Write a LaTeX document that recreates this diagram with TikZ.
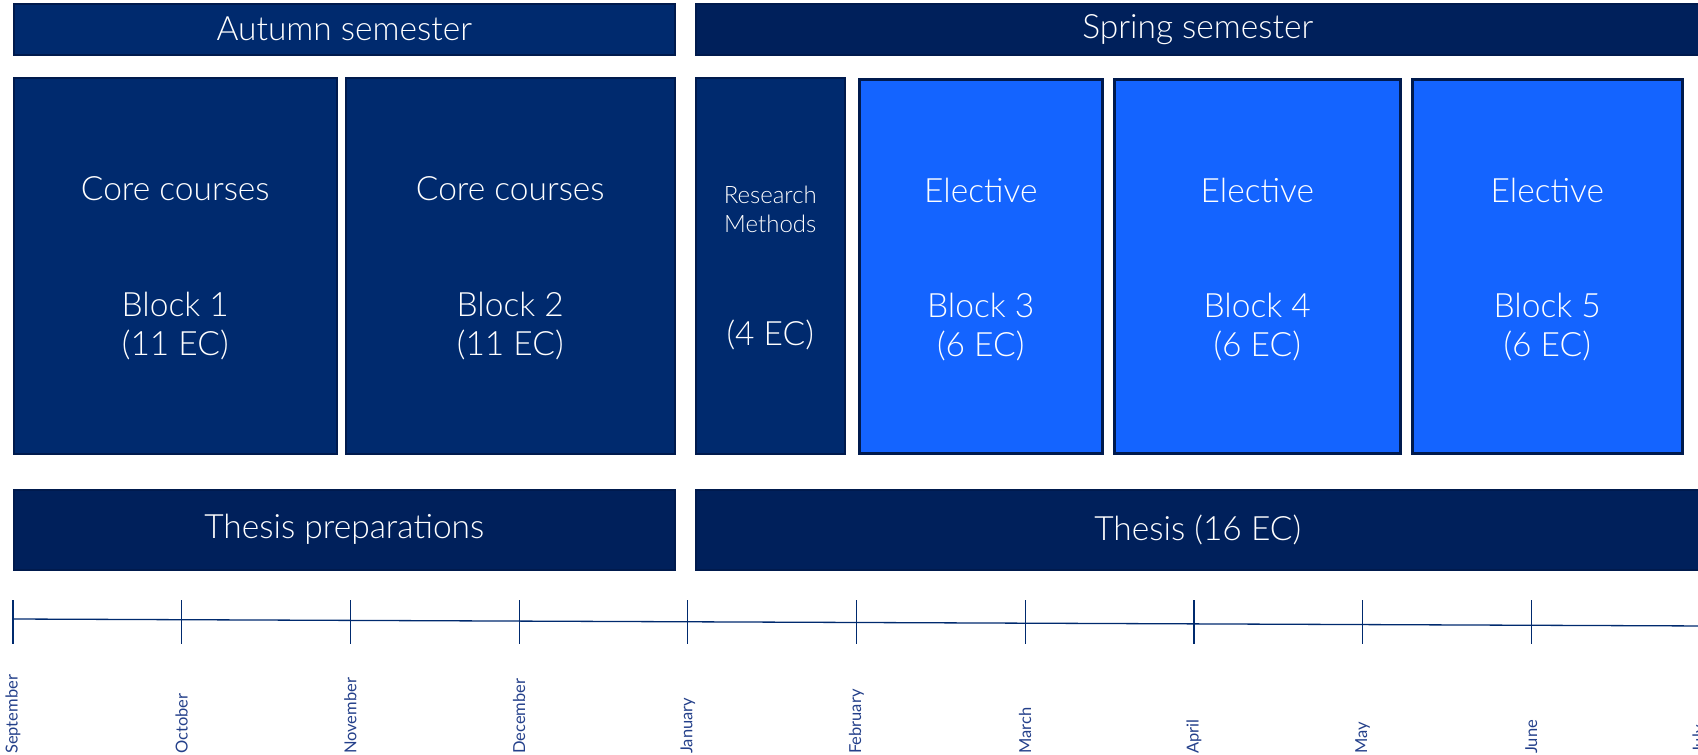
\documentclass[tikz,border=0pt]{standalone}
\usepackage{fontspec}
\setmainfont{Lato Light}
\newfontfamily\monthfont{Lato}
\usetikzlibrary{calc}
\definecolor{navy}{HTML}{002A6E}
\definecolor{deepnavy}{HTML}{00205B}
\definecolor{brightblue}{HTML}{1464FF}
\definecolor{edgenavy}{HTML}{001A4D}
\definecolor{monthblue}{HTML}{24408A}
\begin{document}
\begin{tikzpicture}[x=1pt,y=-1pt,
    bar/.style={draw=edgenavy,line width=1.5pt,fill=#1,text=white,anchor=north west,inner sep=0pt,minimum height=51pt,font=\fontsize{33.5}{39}\selectfont},
    core/.style={draw=edgenavy,line width=1.5pt,fill=navy,anchor=north west,inner sep=0pt,minimum height=376pt},
    elect/.style={draw=edgenavy,line width=2.5pt,fill=brightblue,anchor=north west,inner sep=0pt,minimum height=374pt},
    lbl/.style={text=white,align=center,inner sep=0pt,font=\fontsize{33.5}{39}\selectfont},
    smalllbl/.style={text=white,align=center,inner sep=0pt,font=\fontsize{24}{29}\selectfont},
    month/.style={text=monthblue,rotate=90,anchor=west,inner sep=0pt,font=\monthfont\fontsize{16.5}{18}\selectfont}]
\useasboundingbox (0,0) rectangle (1698,755);
\node[bar=navy,minimum width=661pt] (aut) at (13,3) {Autumn semester};
\node[bar=deepnavy,minimum width=1004pt] (spr) at (695,3) {Spring semester};
\node[core,minimum width=323pt] (b1) at (13,77) {};
\node[core,minimum width=329pt] (b2) at (345,77) {};
\node[core,minimum width=149pt] (rm) at (695,77) {};
\node[elect,minimum width=243pt] (b3) at (858,78) {};
\node[elect,minimum width=286pt] (b4) at (1113,78) {};
\node[elect,minimum width=270pt] (b5) at (1411,78) {};
\foreach \b/\t/\n in {b1/Core courses/Block 1\\(11 EC),b2/Core courses/Block 2\\(11 EC),b3/Elective/Block 3\\(6 EC),b4/Elective/Block 4\\(6 EC),b5/Elective/Block 5\\(6 EC)}{
  \node[lbl] (\b t) at ($(\b.north)+(0,112)$) {\t};
  \node[lbl] (\b n) at ($(\b.north)+(0,249.5)$) {\n};
}
\node[smalllbl] (rmt) at ($(rm.north)+(0,132)$) {Research\\Methods};
\node[lbl] (rmn) at ($(rm.north)+(0,258)$) {(4 EC)};
\node[bar=deepnavy,minimum width=661pt,minimum height=80pt] (prep) at (13,489) {Thesis preparations};
\node[bar=deepnavy,minimum width=1004pt,minimum height=80pt] (thes) at (695,489) {Thesis (16 EC)};
\coordinate (tls) at (13,619);
\coordinate (tle) at (1710,626);
\draw[navy,line width=1.3pt] (tls) -- (tle);
\foreach \m [count=\i from 0] in {September,October,November,December,January,February,March,April,May,June,July}{
  \coordinate (t\i) at (13+168.7*\i,622);
  \draw[navy,line width=1.2pt] ($(t\i)+(0,-22)$) -- ($(t\i)+(0,22)$);
  \node[month] (m\i) at ($(t\i)+(0,132)$) {\m};
}
\end{tikzpicture}
\end{document}
